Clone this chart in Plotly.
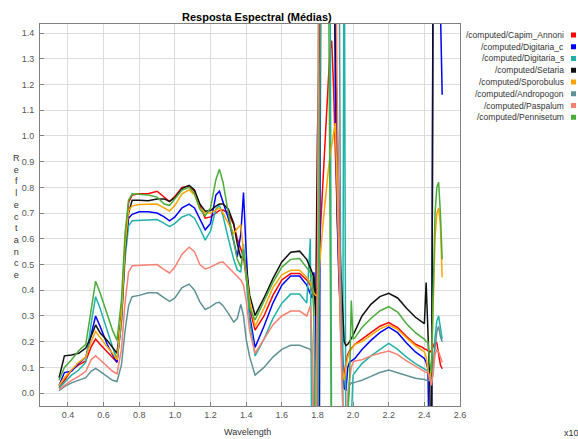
import plotly.graph_objects as go

# ---------------- data ----------------
WL_VNIR = [0.35, 0.38, 0.42, 0.46, 0.50, 0.53, 0.555, 0.58, 0.62, 0.65, 0.675, 0.70, 0.72, 0.74,
           0.76, 0.80, 0.85, 0.90, 0.94, 0.97, 1.00, 1.04, 1.08, 1.11, 1.14, 1.17, 1.20, 1.23,
           1.25, 1.27, 1.30, 1.33, 1.35, 1.37, 1.385, 1.40, 1.42, 1.45, 1.50, 1.55, 1.60, 1.65,
           1.70, 1.74]
WL_WATER = [1.76, 1.77, 1.78, 1.79, 1.80, 1.81, 1.82, 1.83, 1.84, 1.85, 1.86, 1.87, 1.88,
            1.89, 1.90, 1.91, 1.92, 1.93, 1.94, 1.95, 1.96, 1.97, 1.98, 1.99, 2.00, 2.01]
WL_SWIR = [2.05, 2.10, 2.15, 2.20, 2.25, 2.30, 2.35, 2.39]
WL_END = [2.40, 2.41, 2.42, 2.43, 2.44, 2.45, 2.46, 2.47, 2.48, 2.49, 2.50]

CAPIM_VNIR = [0.02, 0.05, 0.09, 0.11, 0.125, 0.18, 0.21, 0.19, 0.16, 0.14, 0.12, 0.30, 0.58, 0.74,
              0.77, 0.775, 0.775, 0.785, 0.76, 0.745, 0.765, 0.80, 0.805, 0.785, 0.73, 0.68, 0.685, 0.70,
              0.71, 0.712, 0.70, 0.655, 0.60, 0.56, 0.53, 0.45, 0.33, 0.245, 0.30, 0.38, 0.44, 0.465,
              0.465, 0.44]
CAPIM_WATER = [0.42, 0.40, 0.38, 0.36, 0.42, 0.55, 0.70, 0.83, 0.95, 1.08, 1.20, 1.33, 1.37,
               1.20, 0.95, 0.70, 0.45, 0.25, 0.07, 0.07, 0.12, 0.15, 0.165, 0.175, 0.183, 0.19]
CAPIM_SWIR = [0.21, 0.235, 0.26, 0.274, 0.255, 0.22, 0.19, 0.178]
CAPIM_END = [0.172, 0.17, 0.165, 0.16, 0.165, 0.18, 0.20, 0.195, 0.15, 0.11, 0.095]

DIGC_VNIR = [0.03, 0.08, 0.085, 0.115, 0.14, 0.23, 0.30, 0.26, 0.19, 0.15, 0.12, 0.28, 0.55, 0.68,
             0.695, 0.705, 0.705, 0.70, 0.685, 0.67, 0.685, 0.72, 0.735, 0.72, 0.68, 0.635, 0.66, 0.77,
             0.785, 0.74, 0.68, 0.59, 0.53, 0.62, 0.78, 0.55, 0.30, 0.178, 0.26, 0.35, 0.42, 0.455,
             0.455, 0.42]
DIGC_WATER = [0.39, 0.37, 0.47, 0.33, -0.4, -0.4, 2.0, 2.0, 2.0, 2.0, 2.0, 2.0, 2.0,
              2.0, 1.2, 0.70, 0.45, 0.30, 0.12, 0.02, 0.01, 0.10, 0.12, 0.125, 0.13, 0.135]
DIGC_SWIR = [0.17, 0.205, 0.235, 0.257, 0.235, 0.195, 0.16, 0.14]
DIGC_END = [0.135, 0.12, 0.095, -0.4, -0.4, 2.0, 2.0, 2.0, 2.0, 1.5, 1.16]

DIGS_VNIR = [0.02, 0.04, 0.07, 0.09, 0.12, 0.27, 0.375, 0.33, 0.24, 0.18, 0.13, 0.27, 0.52, 0.65,
             0.67, 0.672, 0.675, 0.675, 0.66, 0.647, 0.66, 0.685, 0.695, 0.68, 0.64, 0.595, 0.63, 0.715,
             0.73, 0.69, 0.60, 0.52, 0.48, 0.47, 0.58, 0.45, 0.28, 0.145, 0.21, 0.29, 0.35, 0.385,
             0.385, 0.35]
DIGS_WATER = [0.60, -0.4, -0.4, -0.4, -0.4, 2.0, 2.0, 2.0, 2.0, 2.0, 2.0, 2.0, -0.4,
              -0.4, -0.4, -0.4, -0.4, -0.4, -0.4, 2.0, -0.4, -0.4, -0.4, -0.1, 0.07, 0.08]
DIGS_SWIR = [0.115, 0.145, 0.17, 0.193, 0.17, 0.14, 0.115, 0.10]
DIGS_END = [0.095, 0.09, 0.085, 0.07, 0.04, 0.08, 0.22, 0.28, 0.30, 0.26, 0.21]

SETARIA_VNIR = [0.06, 0.145, 0.148, 0.155, 0.175, 0.22, 0.265, 0.235, 0.205, 0.18, 0.155, 0.30, 0.55, 0.70,
                0.75, 0.75, 0.748, 0.755, 0.755, 0.745, 0.76, 0.795, 0.808, 0.79, 0.735, 0.707, 0.71, 0.727,
                0.735, 0.735, 0.715, 0.66, 0.58, 0.525, 0.537, 0.49, 0.38, 0.302, 0.37, 0.445, 0.51, 0.548,
                0.552, 0.52]
SETARIA_WATER = [0.49, 0.47, 0.45, 0.30, 1.0, 2.0, 2.0, 2.0, 2.0, 2.0, 2.0, 2.0, 2.0,
                 2.0, 1.4, 1.0, 0.75, 0.50, 0.32, 0.20, 0.185, 0.19, 0.20, 0.21, 0.225, 0.24]
SETARIA_SWIR = [0.30, 0.345, 0.375, 0.388, 0.37, 0.33, 0.295, 0.275]
SETARIA_END = [0.27, 0.43, 0.20, 0.05, -0.4, 2.0, 2.0, 2.0, 2.0, 2.0, 2.0]

SPORO_VNIR = [0.03, 0.06, 0.09, 0.12, 0.14, 0.20, 0.24, 0.215, 0.18, 0.155, 0.13, 0.30, 0.57, 0.71,
              0.728, 0.733, 0.735, 0.735, 0.72, 0.708, 0.73, 0.775, 0.79, 0.77, 0.72, 0.70, 0.70, 0.712,
              0.72, 0.70, 0.66, 0.62, 0.64, 0.655, 0.55, 0.47, 0.36, 0.26, 0.33, 0.41, 0.46, 0.478,
              0.478, 0.45]
SPORO_WATER = [0.43, 0.41, 0.39, 0.38, 0.38, 0.48, 0.58, 0.65, 0.72, 0.80, 0.86, 0.92, 0.97,
               1.02, 1.05, 0.80, 0.47, 0.25, 0.10, 0.05, 0.10, 0.14, 0.16, 0.17, 0.18, 0.19]
SPORO_SWIR = [0.20, 0.225, 0.25, 0.265, 0.248, 0.215, 0.185, 0.165]
SPORO_END = [0.16, 0.14, 0.10, 0.05, 0.10, 0.35, 0.60, 0.70, 0.72, 0.65, 0.45]

ANDRO_VNIR = [0.01, 0.025, 0.04, 0.05, 0.06, 0.085, 0.096, 0.085, 0.065, 0.05, 0.045, 0.11, 0.24, 0.34,
              0.375, 0.38, 0.39, 0.39, 0.37, 0.357, 0.37, 0.41, 0.424, 0.40, 0.355, 0.325, 0.335, 0.35,
              0.353, 0.34, 0.31, 0.276, 0.29, 0.345, 0.30, 0.21, 0.14, 0.07, 0.10, 0.14, 0.17, 0.186,
              0.186, 0.175]
ANDRO_WATER = [0.17, 0.15, -0.4, -0.4, 0.3, 2.0, 2.0, 2.0, 2.0, 2.0, 2.0, 2.0, 2.0,
               2.0, 2.0, 2.0, 2.0, 0.5, -0.4, -0.4, -0.4, -0.05, 0.03, 0.04, 0.04, 0.042]
ANDRO_SWIR = [0.05, 0.065, 0.08, 0.09, 0.08, 0.068, 0.058, 0.054]
ANDRO_END = [0.054, 0.05, 0.05, 0.05, 0.04, 0.10, 0.18, 0.24, 0.26, 0.22, 0.20]

PASPA_VNIR = [0.015, 0.03, 0.05, 0.065, 0.085, 0.13, 0.145, 0.13, 0.105, 0.085, 0.075, 0.17, 0.35, 0.47,
              0.495, 0.497, 0.497, 0.50, 0.48, 0.467, 0.49, 0.54, 0.567, 0.55, 0.50, 0.483, 0.49, 0.50,
              0.508, 0.51, 0.49, 0.47, 0.455, 0.44, 0.42, 0.36, 0.24, 0.155, 0.21, 0.265, 0.30, 0.319,
              0.319, 0.30]
PASPA_WATER = [0.34, 0.20, -0.4, -0.4, 0.5, 2.0, 2.0, 2.0, 2.0, 2.0, 2.0, 2.0, 2.0,
               2.0, 2.0, 1.2, 0.6, 0.2, 0.0, -0.4, -0.4, 0.0, 0.06, 0.10, 0.12, 0.125]
PASPA_SWIR = [0.13, 0.145, 0.155, 0.164, 0.15, 0.125, 0.105, 0.09]
PASPA_END = [0.086, 0.08, 0.08, 0.06, 0.03, 0.08, 0.15, 0.17, 0.16, 0.14, 0.12]

PENNI_VNIR = [0.05, 0.10, 0.13, 0.165, 0.19, 0.33, 0.435, 0.39, 0.31, 0.245, 0.205, 0.36, 0.62, 0.75,
              0.775, 0.772, 0.77, 0.762, 0.735, 0.73, 0.755, 0.79, 0.80, 0.775, 0.715, 0.69, 0.72, 0.83,
              0.87, 0.82, 0.70, 0.60, 0.52, 0.49, 0.56, 0.47, 0.33, 0.285, 0.36, 0.43, 0.49, 0.52,
              0.523, 0.49]
PENNI_WATER = [0.47, 0.45, 0.30, -0.4, -0.4, 0.5, 2.0, 2.0, 2.0, 2.0, 2.0, 0.73, -0.4,
               -0.4, -0.4, -0.4, -0.4, -0.4, -0.4, -0.4, -0.4, -0.1, 0.05, 0.36, 0.21, 0.215]
PENNI_SWIR = [0.255, 0.29, 0.32, 0.336, 0.315, 0.27, 0.235, 0.215]
PENNI_END = [0.21, 0.20, 0.20, 0.12, 0.08, 0.40, 0.70, 0.80, 0.82, 0.70, 0.52]

SERIES_NAMES = ["/computed/Capim_Annoni", "/computed/Digitaria_c", "/computed/Digitaria_s",
                "/computed/Setaria", "/computed/Sporobulus", "/computed/Andropogon",
                "/computed/Paspalum", "/computed/Pennisetum"]
X_TICKS = [0.4, 0.6, 0.8, 1.0, 1.2, 1.4, 1.6, 1.8, 2.0, 2.2, 2.4, 2.6]
Y_TICKS = [0.0, 0.1, 0.2, 0.3, 0.4, 0.5, 0.6, 0.7, 0.8, 0.9, 1.0, 1.1, 1.2, 1.3, 1.4]

# ---------------- build ----------------
WAVELENGTH = WL_VNIR + WL_WATER + WL_SWIR + WL_END
series_values = [
    CAPIM_VNIR + CAPIM_WATER + CAPIM_SWIR + CAPIM_END,
    DIGC_VNIR + DIGC_WATER + DIGC_SWIR + DIGC_END,
    DIGS_VNIR + DIGS_WATER + DIGS_SWIR + DIGS_END,
    SETARIA_VNIR + SETARIA_WATER + SETARIA_SWIR + SETARIA_END,
    SPORO_VNIR + SPORO_WATER + SPORO_SWIR + SPORO_END,
    ANDRO_VNIR + ANDRO_WATER + ANDRO_SWIR + ANDRO_END,
    PASPA_VNIR + PASPA_WATER + PASPA_SWIR + PASPA_END,
    PENNI_VNIR + PENNI_WATER + PENNI_SWIR + PENNI_END,
]
colors = ["#ff0000", "#0000ff", "#20b2aa", "#111111", "#ffa500", "#5f9297", "#fa8072", "#4aac3a"]

FONT = "Liberation Sans, Arial, sans-serif"
W, H = 578, 439
ML, MR, MT, MB = 40, 118, 24, 33
PW, PH = W - ML - MR, H - MT - MB


def px_x(p):
    return (p - ML) / PW


def px_y(p):
    return (H - MB - p) / PH


fig = go.Figure()
for name, col, vals in zip(SERIES_NAMES, colors, series_values):
    fig.add_trace(go.Scatter(x=WAVELENGTH, y=vals, mode="lines", name=name,
                             line=dict(color=col, width=1.5), showlegend=False))

axis_common = dict(showgrid=True, gridcolor="#dcdcdc", gridwidth=1, zeroline=False,
                   showline=True, linecolor="#808080", linewidth=1, mirror=True,
                   ticks="inside", ticklen=4, tickcolor="#808080",
                   tickfont=dict(family=FONT, size=9, color="#555555"), tickformat=".1f")

fig.update_layout(
    width=W, height=H,
    margin=dict(l=ML, r=MR, t=MT, b=MB, pad=0),
    paper_bgcolor="white", plot_bgcolor="white",
    font=dict(family=FONT),
    xaxis=dict(range=[0.243, 2.6], tickvals=X_TICKS, **axis_common),
    yaxis=dict(range=[-0.05, 1.435], tickvals=Y_TICKS, ticklabelstandoff=3, **axis_common),
)

annotations = [
    dict(text="<b>Resposta Espectral (Médias)</b>", x=px_x(257), y=px_y(17),
         font=dict(size=11, color="black", family=FONT)),
    dict(text="Wavelength", x=px_x(247), y=px_y(432), font=dict(size=9, color="#333333", family=FONT)),
    dict(text="x10<sup>3</sup>", x=px_x(562), y=px_y(432), xanchor="left",
         font=dict(size=9, color="#333333", family=FONT)),
    dict(text="<br>".join("Reflectance"), x=px_x(16), y=px_y(217), align="center",
         font=dict(size=9, color="#333333", family=FONT)),
]
shapes = []
for i, (name, col) in enumerate(zip(SERIES_NAMES, colors)):
    yp = 35 + i * 11.75
    annotations.append(dict(text=name, x=px_x(566), y=px_y(yp), xanchor="right",
                            font=dict(size=8.5, color="#333333", family=FONT)))
    shapes.append(dict(type="rect", xref="paper", yref="paper",
                       x0=px_x(571), x1=px_x(576), y0=px_y(yp + 2.5), y1=px_y(yp - 2.5),
                       fillcolor=col, line=dict(width=0)))

for a in annotations:
    a.update(xref="paper", yref="paper", showarrow=False)
    a.setdefault("xanchor", "center")
    a.setdefault("yanchor", "middle")

fig.update_layout(annotations=annotations, shapes=shapes)
fig.write_html("out.html", config={"displayModeBar": False},
               post_script="document.body.style.margin='0';document.body.style.padding='0';")
